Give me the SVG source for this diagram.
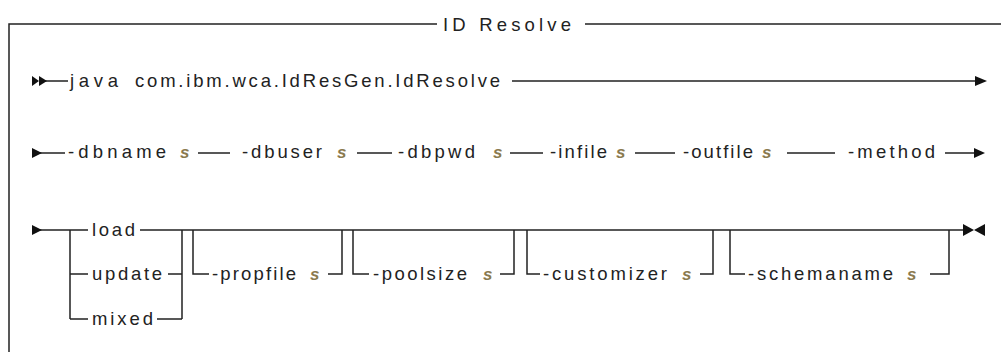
<svg xmlns="http://www.w3.org/2000/svg" width="1001" height="352" viewBox="0 0 1001 352">
<style>
.l{stroke:#222;stroke-width:1.5;fill:none}
.t{font-family:"Liberation Sans",Arial,sans-serif;font-size:18.5px;fill:#222}
.v{font-family:"Liberation Sans",Arial,sans-serif;font-size:17px;font-style:italic;font-weight:bold;fill:#8a7a4e}
.h{fill:#111}
</style>
<rect width="1001" height="352" fill="#fff"/>
<g id="frame">
<path class="l" d="M9,352 V24 H437 M585,24 H1001"/>
<text class="t" x="443" y="31" textLength="128" lengthAdjust="spacing">ID Resolve</text>
</g>
<g id="connectors">
<path class="l" d="M39,81 H68 M512,81 H978"/>
<path class="l" d="M40,153 H65 M198,153 H230 M357,153 H392 M510,153 H543 M635,153 H675 M787,153 H835 M945,153 H978"/>
<path class="l" d="M40,230 H88 M140,230 H965"/>
<path class="l" d="M70,230 V319 M70,274 H88 M70,319 H88 M168,274 H182 M157,319 H182 M182,230 V319"/>
<path class="l" d="M193,230 V274 H209 M328,274 H342 V230"/>
<path class="l" d="M353,230 V274 H369 M500,274 H514 V230"/>
<path class="l" d="M527,230 V274 H540 M700,274 H713 V230"/>
<path class="l" d="M730,230 V274 H745 M930,274 H949 V230"/>
<polygon class="h" points="32,76 39,81 32,86"/>
<polygon class="h" points="39,76 47,81 39,86"/>
<polygon class="h" points="975,76 987,81 975,86"/>
<polygon class="h" points="32,148 42,153 32,158"/>
<polygon class="h" points="974,148 985,153 974,158"/>
<polygon class="h" points="32,225 42,230 32,235"/>
<polygon class="h" points="963,224 974,230 963,236"/>
<polygon class="h" points="985,224 974,230 985,236"/>
</g>
<g id="row1">
<text class="t" x="70" y="87" textLength="48" lengthAdjust="spacing">java</text>
<text class="t" x="135" y="87" textLength="365" lengthAdjust="spacing">com.ibm.wca.IdResGen.IdResolve</text>
</g>
<g id="row2">
<text class="t" x="68" y="158" textLength="98" lengthAdjust="spacing">-dbname</text>
<text class="v" x="180" y="158">s</text>
<text class="t" x="242" y="158" textLength="80" lengthAdjust="spacing">-dbuser</text>
<text class="v" x="337" y="158">s</text>
<text class="t" x="398" y="158" textLength="77" lengthAdjust="spacing">-dbpwd</text>
<text class="v" x="493" y="158">s</text>
<text class="t" x="550" y="158" textLength="57" lengthAdjust="spacing">-infile</text>
<text class="v" x="616" y="158">s</text>
<text class="t" x="683" y="158" textLength="70" lengthAdjust="spacing">-outfile</text>
<text class="v" x="762" y="158">s</text>
<text class="t" x="848" y="158" textLength="87" lengthAdjust="spacing">-method</text>
</g>
<g id="method">
<text class="t" x="92" y="236" textLength="43" lengthAdjust="spacing">load</text>
<text class="t" x="92" y="280" textLength="70" lengthAdjust="spacing">update</text>
<text class="t" x="92" y="325" textLength="61" lengthAdjust="spacing">mixed</text>
</g>
<g id="propfile">
<text class="t" x="212" y="280" textLength="84" lengthAdjust="spacing">-propfile</text>
<text class="v" x="310" y="280">s</text>
</g>
<g id="poolsize">
<text class="t" x="373" y="280" textLength="94" lengthAdjust="spacing">-poolsize</text>
<text class="v" x="483" y="280">s</text>
</g>
<g id="customizer">
<text class="t" x="543" y="280" textLength="124" lengthAdjust="spacing">-customizer</text>
<text class="v" x="682" y="280">s</text>
</g>
<g id="schemaname">
<text class="t" x="748" y="280" textLength="145" lengthAdjust="spacing">-schemaname</text>
<text class="v" x="907" y="280">s</text>
</g>
</svg>
